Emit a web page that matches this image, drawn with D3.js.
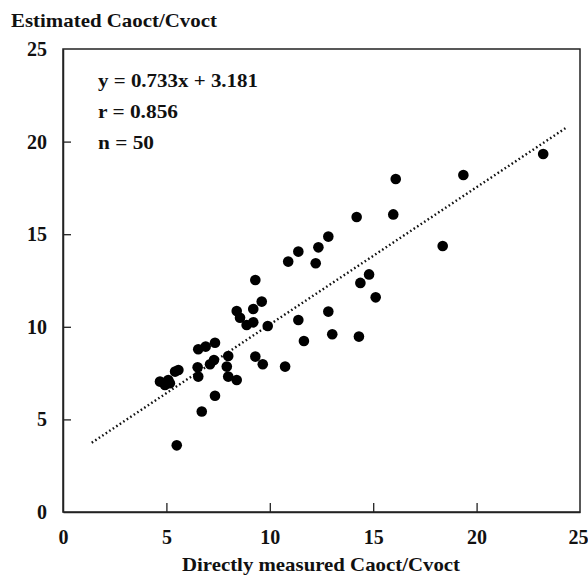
<!DOCTYPE html>
<html>
<head>
<meta charset="utf-8">
<script src="https://cdn.jsdelivr.net/npm/d3@7"></script>
<style>
  body { margin: 0; background: #fff; }
  text { font-family: "Liberation Serif", "Times New Roman", serif; font-weight: bold; fill: #111; }
</style>
</head>
<body>
<div id="chart"></div>
<script>
// measured (x) vs estimated (y) Caoct/Cvoct
var measured = [23.22, 19.36, 16.09, 15.97, 18.36, 14.2, 12.83, 12.35, 11.38, 10.89,
    12.22, 14.8, 14.38, 15.12, 9.3, 9.61, 8.4, 8.56, 9.2, 9.2,
    8.88, 9.9, 12.83, 11.38, 13.02, 14.31, 11.65, 7.35, 6.9, 6.54,
    7.99, 7.11, 7.3, 9.3, 9.66, 10.74, 7.92, 6.51, 6.54, 5.58,
    5.42, 7.99, 8.4, 4.69, 5.09, 4.93, 5.17, 7.35, 6.71, 5.5];
var estimated = [19.33, 18.2, 17.98, 16.07, 14.36, 15.93, 14.87, 14.29, 14.06, 13.52,
    13.43, 12.83, 12.37, 11.59, 12.53, 11.36, 10.85, 10.49, 10.96, 10.24,
    10.1, 10.04, 10.82, 10.37, 9.6, 9.47, 9.23, 9.14, 8.93, 8.79,
    8.42, 7.98, 8.21, 8.39, 7.98, 7.85, 7.85, 7.81, 7.31, 7.67,
    7.58, 7.31, 7.13, 7.04, 7.13, 6.86, 6.95, 6.28, 5.43, 3.6];

// dotted regression line, end points as drawn
var fitX = [1.39, 24.36];
var fitY = [3.74, 20.77];

var ticks = [0, 5, 10, 15, 20, 25];
var statLines = ["y = 0.733x + 3.181", "r = 0.856", "n = 50"];
var statWidths = [160, 80, 56];

var W = 588, H = 575;
var margin = { top: 49, right: 8, bottom: 63, left: 63 },
    width = W - margin.left - margin.right,
    height = H - margin.top - margin.bottom;

var svg = d3.select("#chart")
    .append("svg")
    .attr("width", W)
    .attr("height", H);

var g = svg.append("g")
    .attr("transform", "translate(" + margin.left + "," + margin.top + ")");

var x = d3.scaleLinear().domain([0, 25]).range([0, width]);
var y = d3.scaleLinear().domain([0, 25]).range([height, 0]);

// frame
g.append("rect")
    .attr("x", 0).attr("y", 0)
    .attr("width", width).attr("height", height)
    .attr("fill", "none")
    .attr("stroke", "#222")
    .attr("stroke-width", 1.5);

var xAxis = g.append("g")
    .attr("transform", "translate(0," + height + ")")
    .call(d3.axisBottom(x).tickValues(ticks).tickSizeInner(-9).tickSizeOuter(0).tickPadding(18));

var yAxis = g.append("g")
    .call(d3.axisLeft(y).tickValues(ticks).tickSizeInner(-8).tickSizeOuter(0).tickPadding(16));

[xAxis, yAxis].forEach(function (a) {
    a.select(".domain").attr("stroke", "#222").attr("stroke-width", 1.5);
    a.selectAll(".tick line").attr("stroke", "#222").attr("stroke-width", 1.3);
    a.selectAll(".tick text").style("font-size", "20px").attr("fill", "#111");
});
// ticks at 0 and 25 sit on the frame, drop them
xAxis.selectAll(".tick line").filter(function (d) { return d === 0 || d === 25; }).remove();
yAxis.selectAll(".tick line").filter(function (d) { return d === 0 || d === 25; }).remove();
// last x label runs into the page edge, pull it in
xAxis.selectAll(".tick text").filter(function (d) { return d === 25; })
    .attr("text-anchor", "end").attr("x", 8);

// regression line
g.append("path")
    .datum(d3.zip(fitX, fitY))
    .attr("fill", "none")
    .attr("stroke", "#111")
    .attr("stroke-width", 2.4)
    .attr("stroke-dasharray", "1.6,2.6")
    .attr("d", d3.line()
        .x(function (d) { return x(d[0]); })
        .y(function (d) { return y(d[1]); }));

// points
g.selectAll("circle.pt")
    .data(d3.zip(measured, estimated))
    .enter().append("circle")
    .attr("class", "pt")
    .attr("cx", function (d) { return x(d[0]); })
    .attr("cy", function (d) { return y(d[1]); })
    .attr("r", 5.3)
    .attr("fill", "#000");

// stats block
g.selectAll("text.stat")
    .data(statLines)
    .enter().append("text")
    .attr("class", "stat")
    .attr("x", 35)
    .attr("y", function (d, i) { return 38 + i * 31; })
    .attr("textLength", function (d, i) { return statWidths[i]; })
    .attr("lengthAdjust", "spacingAndGlyphs")
    .style("font-size", "19px")
    .text(function (d) { return d; });

// axis titles
svg.append("text")
    .attr("x", 11)
    .attr("y", 27)
    .attr("textLength", 206)
    .attr("lengthAdjust", "spacingAndGlyphs")
    .style("font-size", "19px")
    .text("Estimated Caoct/Cvoct");

svg.append("text")
    .attr("x", 182)
    .attr("y", 571)
    .attr("textLength", 278)
    .attr("lengthAdjust", "spacingAndGlyphs")
    .style("font-size", "19px")
    .text("Directly measured Caoct/Cvoct");
</script>
</body>
</html>
